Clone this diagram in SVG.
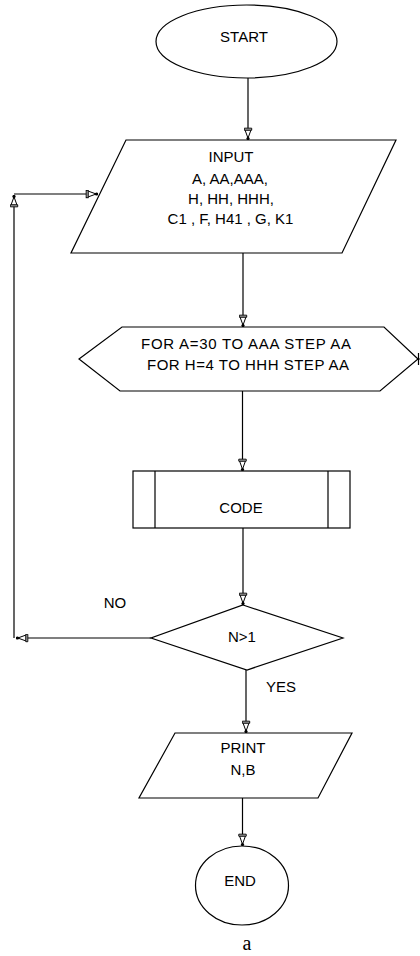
<svg xmlns="http://www.w3.org/2000/svg" width="420" height="956" viewBox="0 0 420 956">
<style>
.s{fill:#fff;stroke:#000;stroke-width:1.2}
.c{fill:none;stroke:#000;stroke-width:1.2}
.t{font-family:"Liberation Sans",Arial,sans-serif;font-size:15px;fill:#000;text-anchor:middle}
</style>
<defs>
<marker id="ah" viewBox="0 0 13 9" refX="12.8" refY="4.5" markerWidth="13" markerHeight="9" markerUnits="userSpaceOnUse" orient="auto">
<rect x="1" y="0.8" width="2" height="7.4" fill="#fff" stroke="#000" stroke-width="1"/>
<path d="M3,1.6 L11,4.5 L3,7.4 Z" fill="#fff" stroke="#000" stroke-width="1"/>
<circle cx="11.3" cy="4.5" r="1.6" fill="#000"/>
</marker>
</defs>
<rect width="420" height="956" fill="#fff"/>
<g id="connectors">
<path class="c" d="M248,78 V140" marker-end="url(#ah)"/>
<path class="c" d="M243,253 V327" marker-end="url(#ah)"/>
<path class="c" d="M242.5,391 V471" marker-end="url(#ah)"/>
<path class="c" d="M243,528 V605" marker-end="url(#ah)"/>
<path class="c" d="M246,670 V733" marker-end="url(#ah)"/>
<path class="c" d="M242.5,798 V846" marker-end="url(#ah)"/>
<path class="c" d="M151,638 H16" marker-end="url(#ah)"/>
<path class="c" d="M14,638 V195" marker-end="url(#ah)"/>
<path class="c" d="M14,194 H98" marker-end="url(#ah)"/>
</g>
<g id="start">
<ellipse class="s" cx="246.5" cy="41.5" rx="90.5" ry="36.5"/>
<text class="t" x="244" y="42">START</text>
</g>
<g id="input">
<polygon class="s" points="126,140 396,140 342,253 71,253"/>
<text class="t" x="231" y="162">INPUT</text>
<text class="t" x="230" y="184">A, AA,AAA,</text>
<text class="t" x="231" y="204">H, HH, HHH,</text>
<text class="t" x="230.5" y="224">C1 , F, H41 , G, K1</text>
</g>
<g id="loop">
<polygon class="s" points="79,359 122,327 384,327 418,359 380,391 120,391"/>
<path class="c" d="M418.5,353 V365 M418,359 H420"/>
<text class="t" x="246" y="349" textLength="210" lengthAdjust="spacing">FOR A=30 TO AAA STEP AA</text>
<text class="t" x="248" y="370" textLength="202" lengthAdjust="spacing">FOR H=4 TO HHH STEP AA</text>
</g>
<g id="code">
<rect class="s" x="133" y="471" width="217" height="57"/>
<path class="c" d="M155,471 V528 M328,471 V528"/>
<text class="t" x="241" y="513">CODE</text>
</g>
<g id="decision">
<polygon class="s" points="243,605 343,638 247,670 151,638"/>
<text class="t" x="242" y="642">N&gt;1</text>
</g>
<g id="labels">
<text class="t" x="115" y="608">NO</text>
<text class="t" x="281" y="692">YES</text>
</g>
<g id="print">
<polygon class="s" points="175,733 352,733 318,798 139,798"/>
<text class="t" x="243" y="753">PRINT</text>
<text class="t" x="243" y="775">N,B</text>
</g>
<g id="end">
<ellipse class="s" cx="242" cy="885.5" rx="46.5" ry="39.5"/>
<text class="t" x="240" y="886">END</text>
</g>
<text x="247" y="950" font-family="'Liberation Serif','Times New Roman',serif" font-size="20" text-anchor="middle" fill="#000">a</text>
</svg>
